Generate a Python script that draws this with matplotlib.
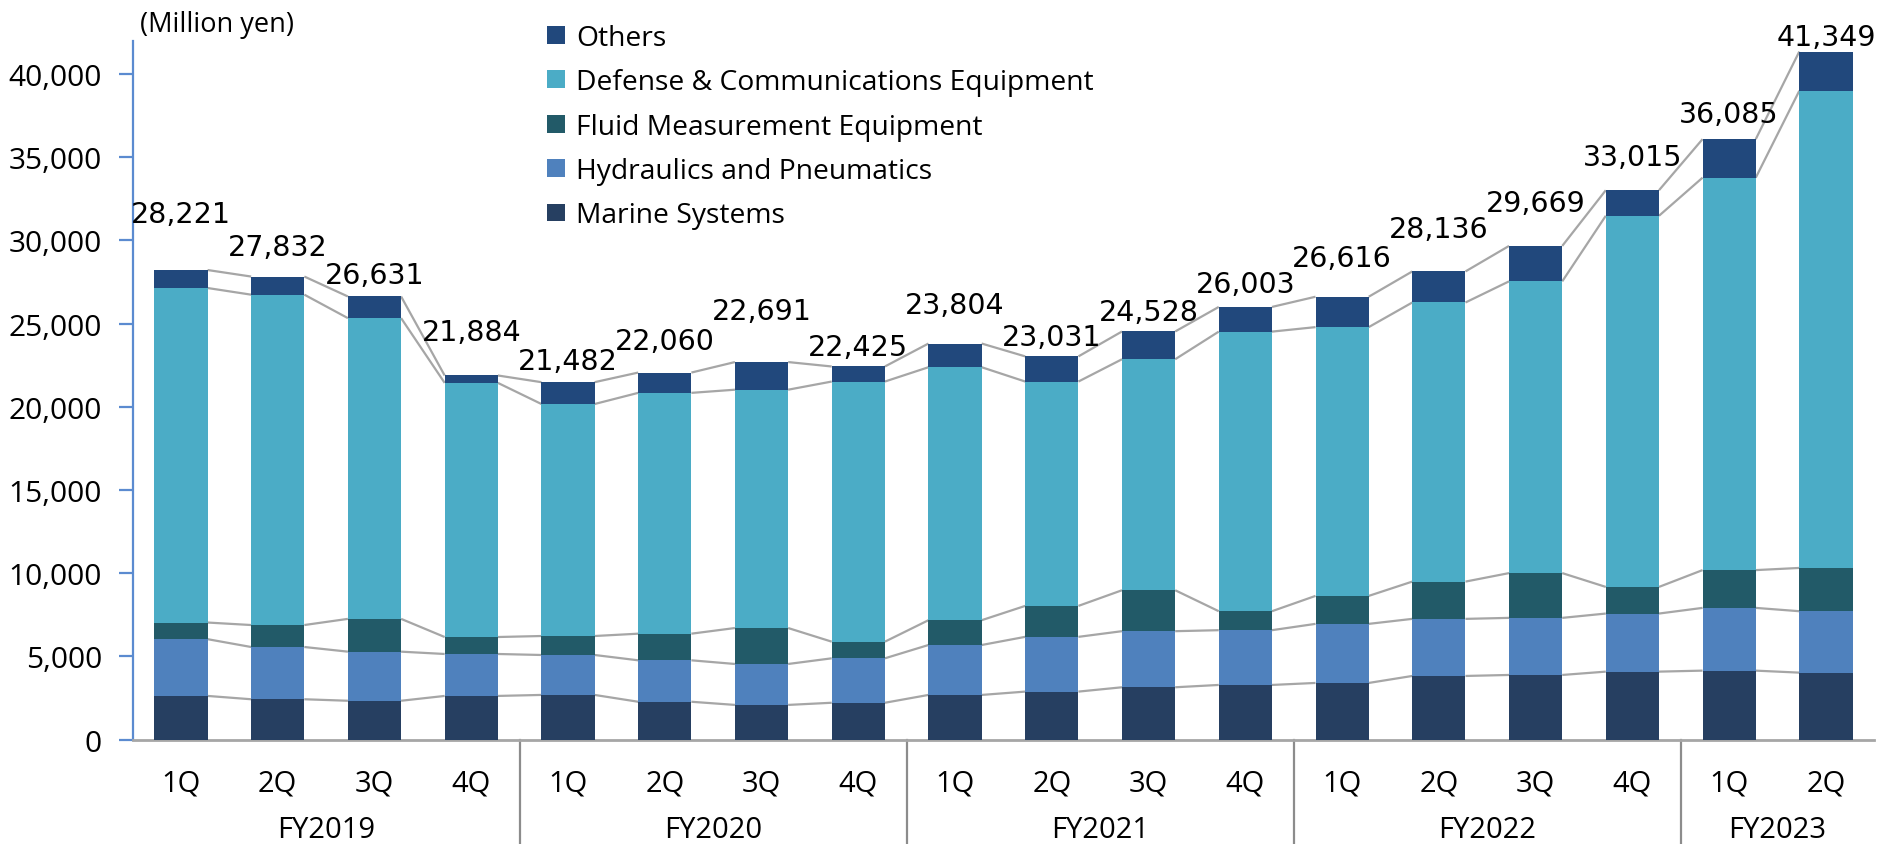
import numpy as np
import matplotlib
matplotlib.use("Agg")
import matplotlib.pyplot as plt
from matplotlib.ticker import FuncFormatter

# quarterly net sales by segment (million yen)
quarters = ["1Q", "2Q", "3Q", "4Q"] * 4 + ["1Q", "2Q"]
fiscal_years = ["FY2019", "FY2020", "FY2021", "FY2022", "FY2023"]
fy_sizes = [4, 4, 4, 4, 2]

marine = [2630, 2430, 2340, 2630, 2690, 2280, 2090, 2220, 2690,
          2890, 3150, 3290, 3410, 3830, 3890, 4090, 4150, 4030]
hydraulics = [3410, 3140, 2950, 2520, 2400, 2490, 2460, 2670, 3000,
              3290, 3370, 3290, 3550, 3430, 3430, 3490, 3770, 3690]
fluid = [1000, 1320, 1970, 1020, 1140, 1600, 2160, 1000, 1490,
         1860, 2460, 1140, 1680, 2240, 2690, 1600, 2270, 2600]
defense = [20100, 19850, 18070, 15270, 13940, 14470, 14320, 15630, 15200,
           13480, 13880, 16800, 16150, 16770, 17530, 22300, 23580, 28670]
others = [1081, 1089, 1301, 444, 1312, 1220, 1661, 905, 1424,
          1511, 1668, 1483, 1826, 1866, 2129, 1535, 2315, 2359]
totals = [28221, 27832, 26631, 21884, 21482, 22060, 22691, 22425, 23804,
          23031, 24528, 26003, 26616, 28136, 29669, 33015, 36085, 41349]

series = [
    ("Marine Systems", marine, "#263F61"),
    ("Hydraulics and Pneumatics", hydraulics, "#4F81BD"),
    ("Fluid Measurement Equipment", fluid, "#225A68"),
    ("Defense & Communications Equipment", defense, "#4BACC6"),
    ("Others", others, "#21487C"),
]

# how far each total label sits above its bar (pixels), as placed in the source
label_lift = [48, 22, 13, 35, 13, 24, 43, 11, 31, 11, 11, 15, 31, 34, 35, 25, 17, 7]

TXT = ["Open Sans", "DejaVu Sans"]
GRAY = "#A6A6A6"
AXBLUE = "#5B8BD0"
INK = "#000000"

fig = plt.figure(figsize=(18.79, 8.45), dpi=100)
ax = fig.add_axes([132.6 / 1879, 104.3 / 845, 1741.7 / 1879, 699 / 845])

x = np.arange(len(totals))
w = 0.55
bottom = np.zeros(len(x))
levels = []
handles = []
for name, vals, col in series:
    b = ax.bar(x, vals, w, bottom=bottom, color=col, label=name, zorder=3)
    handles.append(b)
    bottom = bottom + np.array(vals)
    levels.append(bottom.copy())

# connector lines between neighbouring bars
for lev in levels:
    for i in range(len(x) - 1):
        ax.plot([x[i] + w / 2, x[i + 1] - w / 2], [lev[i], lev[i + 1]],
                color=GRAY, lw=1.6, zorder=2, solid_capstyle="butt")

for i, t in enumerate(totals):
    ax.annotate(f"{t:,}", xy=(x[i], levels[-1][i]), xytext=(0, label_lift[i]),
                textcoords="offset pixels", ha="center", va="baseline",
                fontsize=20.5, family="DejaVu Sans", color=INK)

ax.set_xlim(-0.5, len(x) - 0.5)
ax.set_ylim(0, 42000)
ax.set_yticks(np.arange(0, 40001, 5000))
ax.yaxis.set_major_formatter(FuncFormatter(lambda v, p: f"{int(v):,}"))
ax.set_xticks(x, quarters)

for s in ["top", "right"]:
    ax.spines[s].set_visible(False)
ax.spines["left"].set_color(AXBLUE)
ax.spines["left"].set_linewidth(1.6)
ax.spines["bottom"].set_color(GRAY)
ax.spines["bottom"].set_linewidth(2)
ax.tick_params(axis="y", direction="out", length=10, width=1.6, color=AXBLUE,
               pad=12, labelsize=21.5)
ax.tick_params(axis="x", length=0, pad=21, labelsize=21)
for lab in ax.get_xticklabels() + ax.get_yticklabels():
    lab.set_family(TXT)
    lab.set_color(INK)

# fiscal year group labels and separators
trans = ax.get_xaxis_transform()
start = 0
for fy, n in zip(fiscal_years, fy_sizes):
    mid = start + (n - 1) / 2
    ax.annotate(fy, xy=(mid, 0), xycoords=trans, xytext=(0, -90),
                textcoords="offset pixels", ha="center", va="center",
                fontsize=21, family=TXT, color=INK)
    if start > 0:
        ax.plot([start - 0.5, start - 0.5], [0, -0.2], transform=trans,
                color="#8C8C8C", lw=1.6, clip_on=False)
    start += n

fig.text(140 / 1879, 1 - 25 / 845, "(Million yen)", ha="left", va="center",
         fontsize=19.5, family=TXT, color=INK)

leg = ax.legend(handles[::-1], [s[0] for s in series][::-1],
                loc="upper left", bbox_to_anchor=(547 / 1879, 1 - 25 / 845),
                bbox_transform=fig.transFigure, frameon=False,
                borderpad=0, borderaxespad=0, handlelength=0.65, handleheight=0.6,
                handletextpad=0.38, labelspacing=0.58, prop={"family": TXT, "size": 20.3})
for t in leg.get_texts():
    t.set_color(INK)

fig.savefig("out.png", dpi=100)
